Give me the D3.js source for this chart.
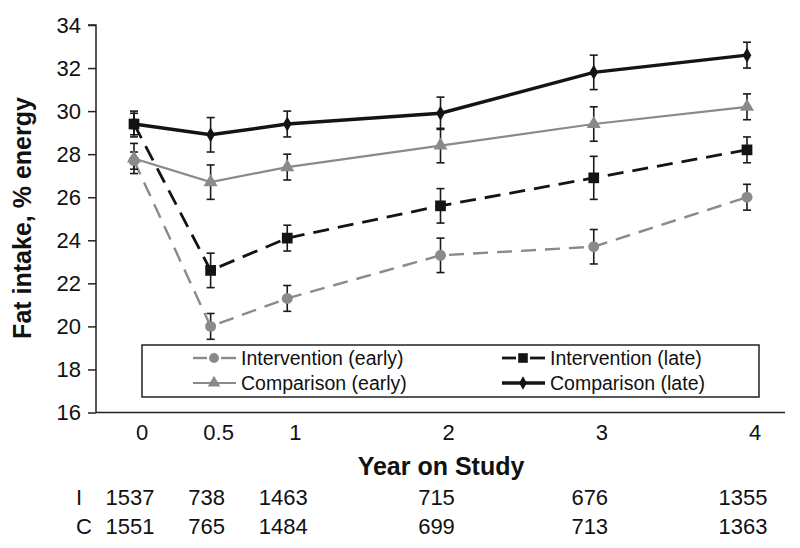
<!DOCTYPE html>
<html><head><meta charset="utf-8">
<script src="https://cdn.jsdelivr.net/npm/d3@7"></script>
<style>
html,body{margin:0;padding:0;background:#fff;}
svg{display:block;font-family:"Liberation Sans",Arial,Helvetica,sans-serif;}
</style></head>
<body><svg id="chart" width="800" height="548"></svg>
<script>
// ---- data ----
const years = [0, 0.5, 1, 2, 3, 4];
const yTicks = [16, 18, 20, 22, 24, 26, 28, 30, 32, 34];
const interventionEarly = [27.7, 20.0, 21.3, 23.3, 23.7, 26.0];
const interventionEarlyErr = [0.4, 0.6, 0.6, 0.8, 0.8, 0.6];
const interventionLate = [29.4, 22.6, 24.1, 25.6, 26.9, 28.2];
const interventionLateErr = [0.5, 0.8, 0.6, 0.8, 1.0, 0.6];
const comparisonEarly = [27.8, 26.7, 27.4, 28.4, 29.4, 30.2];
const comparisonEarlyErr = [0.7, 0.8, 0.6, 0.8, 0.8, 0.6];
const comparisonLate = [29.4, 28.9, 29.4, 29.9, 31.8, 32.6];
const comparisonLateErr = [0.6, 0.8, 0.6, 0.75, 0.8, 0.6];
const nIntervention = [1537, 738, 1463, 715, 676, 1355];
const nComparison = [1551, 765, 1484, 699, 713, 1363];
const seriesNames = ["Intervention (early)", "Intervention (late)", "Comparison (early)", "Comparison (late)"];

const svg = d3.select("#chart");
const x = d3.scaleLinear().domain([0, 4]).range([134, 747]);
const y = d3.scaleLinear().domain([16, 34]).range([412.5, 25]);

const GRAY = "#8a8a8a", BLACK = "#141414";
const series = [
  {name: seriesNames[0], vals: interventionEarly, err: interventionEarlyErr, color: GRAY, width: 2.4, dash: "15,9", marker: "circle"},
  {name: seriesNames[2], vals: comparisonEarly, err: comparisonEarlyErr, color: GRAY, width: 2.2, dash: null, marker: "triangle"},
  {name: seriesNames[1], vals: interventionLate, err: interventionLateErr, color: BLACK, width: 2.8, dash: "16,9", marker: "square"},
  {name: seriesNames[3], vals: comparisonLate, err: comparisonLateErr, color: BLACK, width: 3.4, dash: null, marker: "diamond"}
];
const symbolOf = {circle: d3.symbolCircle, triangle: d3.symbolTriangle, square: d3.symbolSquare, diamond: d3.symbolDiamond};
const sizeOf = {circle: 95, triangle: 85, square: 115, diamond: 65};

// axes
const yAxis = d3.axisLeft(y).tickValues(yTicks).tickSize(8).tickPadding(7).tickFormat(d3.format("d"));
const gy = svg.append("g").attr("transform", "translate(96,0)").call(yAxis);
gy.select(".domain").attr("stroke", "#222").attr("stroke-width", 1.5).attr("d", "M-8,25H0V412.5");
gy.selectAll(".tick line").attr("stroke", "#222").attr("stroke-width", 1.5);
gy.selectAll(".tick text").attr("font-size", 22).attr("fill", "#111").attr("font-family", "Liberation Sans, Arial, sans-serif");
svg.append("line").attr("x1", 96).attr("x2", 785).attr("y1", y(16)).attr("y2", y(16))
  .attr("stroke", "#222").attr("stroke-width", 1.5);

// x tick labels
svg.append("g").selectAll("text").data(years).join("text")
  .attr("x", d => x(d) + 8).attr("y", 440).attr("text-anchor", "middle")
  .attr("font-size", 22).attr("fill", "#111").text(d => d);

// titles
svg.append("text").attr("x", 441).attr("y", 475).attr("text-anchor", "middle")
  .attr("font-size", 25).attr("font-weight", "bold").attr("fill", "#111").text("Year on Study");
svg.append("text").attr("transform", "translate(31,218) rotate(-90)").attr("text-anchor", "middle")
  .attr("font-size", 25).attr("font-weight", "bold").attr("fill", "#111").text("Fat intake, % energy");

// N table
svg.append("text").attr("x", 76).attr("y", 505).attr("font-size", 22).attr("fill", "#111").text("I");
svg.append("text").attr("x", 76).attr("y", 534).attr("font-size", 22).attr("fill", "#111").text("C");
svg.append("g").selectAll("text").data(nIntervention).join("text")
  .attr("x", (d, i) => x(years[i]) - 4).attr("y", 505).attr("text-anchor", "middle")
  .attr("font-size", 22).attr("fill", "#111").text(d => d);
svg.append("g").selectAll("text").data(nComparison).join("text")
  .attr("x", (d, i) => x(years[i]) - 4).attr("y", 534).attr("text-anchor", "middle")
  .attr("font-size", 22).attr("fill", "#111").text(d => d);

// lines
const line = d3.line().x((d, i) => x(years[i])).y(d => y(d));
series.forEach(s => {
  svg.append("path").datum(s.vals).attr("d", line).attr("fill", "none")
    .attr("stroke", s.color).attr("stroke-width", s.width)
    .attr("stroke-dasharray", s.dash);
});
// error bars
series.forEach(s => {
  const g = svg.append("g").attr("stroke", "#1a1a1a").attr("stroke-width", 1.6);
  s.vals.forEach((v, i) => {
    const cx = x(years[i]), lo = y(v - s.err[i]), hi = y(v + s.err[i]);
    g.append("line").attr("x1", cx).attr("x2", cx).attr("y1", lo).attr("y2", hi);
    g.append("line").attr("x1", cx - 4).attr("x2", cx + 4).attr("y1", lo).attr("y2", lo);
    g.append("line").attr("x1", cx - 4).attr("x2", cx + 4).attr("y1", hi).attr("y2", hi);
  });
});
// markers
series.forEach(s => {
  svg.append("g").selectAll("path").data(s.vals).join("path")
    .attr("transform", (d, i) => `translate(${x(years[i])},${y(d)})`)
    .attr("d", d3.symbol().type(symbolOf[s.marker]).size(sizeOf[s.marker]))
    .attr("fill", s.color);
});

// legend
const lg = svg.append("g");
lg.append("rect").attr("x", 142).attr("y", 345).attr("width", 617).attr("height", 52)
  .attr("fill", "#fff").attr("stroke", "#222").attr("stroke-width", 1.5);
const legendPos = [
  {s: series[0], lx: 193, ty: 358},
  {s: series[1], lx: 193, ty: 383},
  {s: series[2], lx: 502, ty: 358},
  {s: series[3], lx: 502, ty: 383}
];
legendPos.forEach(p => {
  const s = p.s;
  if (s.dash) {
    lg.append("line").attr("x1", p.lx).attr("x2", p.lx + 14).attr("y1", p.ty).attr("y2", p.ty)
      .attr("stroke", s.color).attr("stroke-width", s.width);
    lg.append("line").attr("x1", p.lx + 28).attr("x2", p.lx + 43).attr("y1", p.ty).attr("y2", p.ty)
      .attr("stroke", s.color).attr("stroke-width", s.width);
  } else {
    lg.append("line").attr("x1", p.lx).attr("x2", p.lx + 43).attr("y1", p.ty).attr("y2", p.ty)
      .attr("stroke", s.color).attr("stroke-width", s.width);
  }
  lg.append("path").attr("transform", `translate(${p.lx + 21},${p.ty})`)
    .attr("d", d3.symbol().type(symbolOf[s.marker]).size(sizeOf[s.marker] * 0.8)).attr("fill", s.color);
  lg.append("text").attr("x", p.lx + 48).attr("y", p.ty).attr("dy", "0.35em")
    .attr("font-size", 19.5).attr("fill", "#111").text(s.name);
});
</script></body></html>
